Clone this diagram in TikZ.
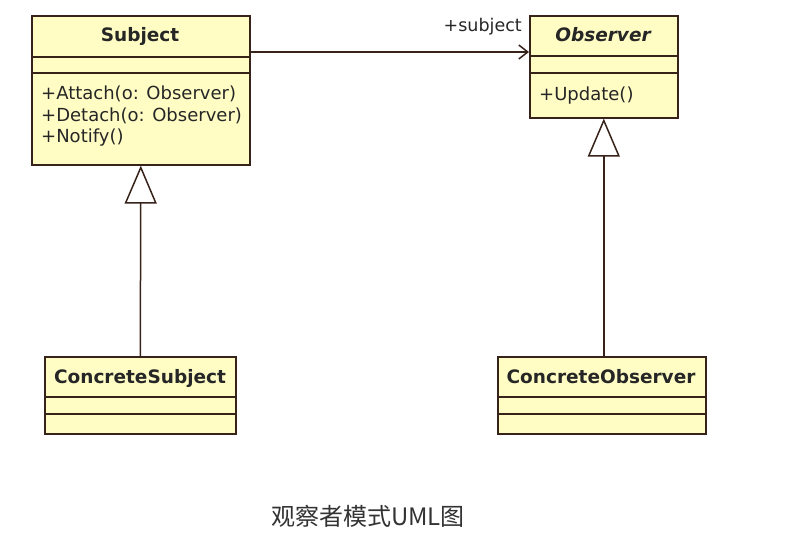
\documentclass[tikz,border=0pt]{standalone}
\usepackage{fontspec}
\setmainfont{DejaVu Sans}
\newfontfamily\cjk{Noto Sans CJK SC}
\usetikzlibrary{arrows.meta}
\definecolor{boxfill}{RGB}{255,253,196}
\definecolor{boxline}{RGB}{55,35,25}
\definecolor{captxt}{RGB}{51,51,51}
\tikzset{
  classbox/.style={draw=boxline, fill=boxfill, line width=1.6pt, rectangle, inner sep=0pt, anchor=north west},
  sepline/.style={draw=boxline, line width=1.6pt},
  cname/.style={font=\fontsize{18.5}{22}\selectfont\bfseries, text=black!85, inner sep=0pt, anchor=base},
  member/.style={font=\fontsize{18}{22}\selectfont, text=black!85, inner sep=0pt, anchor=base west},
  assoc/.style={draw=boxline, line width=1.5pt, -{Straight Barb[length=9pt,width=14pt,line width=1.5pt]}},
  gen/.style={draw=boxline, line width=1.5pt, -{Triangle[open,length=38pt,width=32pt,fill=white,line width=1.5pt]}}
}
\begin{document}
\begin{tikzpicture}[x=1pt,y=-1pt]
\useasboundingbox[fill=white] (0,0) rectangle (790,553);
% Subject
\node[classbox, minimum width=218pt, minimum height=149pt] (subject) at (31,15) {};
\draw[sepline] (31,57) -- (249,57);
\draw[sepline] (31,73) -- (249,73);
\node[cname] (subjname) at (140,42) {Subject};
\node[member] (m1) at (41,100) {+Attach(o: Observer)};
\node[member] (m2) at (41,122) {+Detach(o: Observer)};
\node[member] (m3) at (41,143) {+Notify()};
% Observer
\node[classbox, minimum width=148pt, minimum height=102pt] (observer) at (529,15) {};
\draw[sepline] (529,56) -- (677,56);
\draw[sepline] (529,73) -- (677,73);
\node[cname, font=\fontsize{18.5}{22}\selectfont\bfseries\itshape] (obsname) at (603,42) {Observer};
\node[member] (m4) at (539,101) {+Update()};
% ConcreteSubject
\node[classbox, minimum width=191pt, minimum height=77pt] (csubj) at (44,356) {};
\draw[sepline] (44,397) -- (235,397);
\draw[sepline] (44,414) -- (235,414);
\node[cname] (csubjname) at (140,383) {ConcreteSubject};
% ConcreteObserver
\node[classbox, minimum width=208pt, minimum height=77pt] (cobs) at (497,356) {};
\draw[sepline] (497,397) -- (705,397);
\draw[sepline] (497,414) -- (705,414);
\node[cname] (cobsname) at (601,383) {ConcreteObserver};
% association
\coordinate (aStart) at ([yshift=-37pt]subject.north east);
\coordinate (aEnd) at ([yshift=-37pt]observer.north west);
\draw[assoc] (aStart) -- (aEnd);
\node[font=\fontsize{17.5}{20}\selectfont, text=black!85, anchor=base east, inner sep=0pt] (rolelbl) at (522,32) {+subject};
% generalizations
\draw[gen] (csubj.north) -- (subject.south);
\coordinate (cobsTop) at (observer.south |- cobs.north);
\draw[gen] (cobsTop) -- (observer.south);
% caption
\node[font=\cjk\fontsize{24}{28}\selectfont, text=captxt, inner sep=0pt] (caption) at (368,516) {观察者模式UML图};
\end{tikzpicture}
\end{document}
